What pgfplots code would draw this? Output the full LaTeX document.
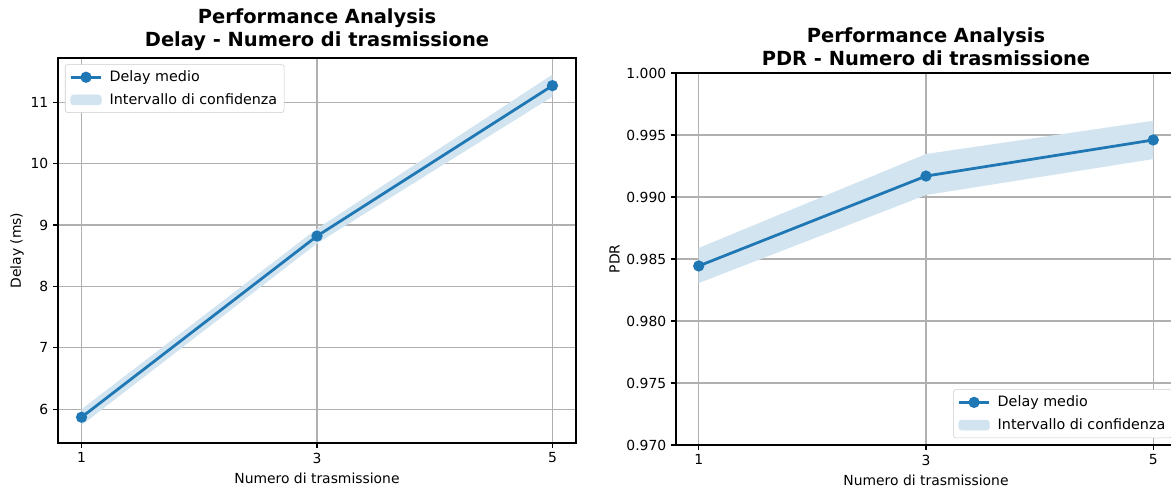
\documentclass[border=0pt]{standalone}
\usepackage{fontspec}
\setmainfont{DejaVu Sans}
\usepackage{pgfplots}
\pgfplotsset{compat=1.18}
\definecolor{C0}{HTML}{1F77B4}
\definecolor{band}{RGB}{210,228,240}
\definecolor{gridc}{HTML}{B0B0B0}
\pgfplotsset{
  myaxis/.style={
    scale only axis,
    anchor=south west,
    xmin=0.8, xmax=5.2,
    xtick={1,3,5},
    grid=major,
    major grid style={color=gridc, line width=0.8pt},
    axis line style={line width=0.8pt},
    tick style={black, line width=0.8pt},
    tick align=outside,
    major tick length=3.5pt,
    tick pos=left,
    /pgf/number format/assume math mode=true,
    tick label style={font=\fontsize{10}{12}\selectfont},
    label style={font=\fontsize{10}{12}\selectfont},
    title style={font=\bfseries\fontsize{14}{16.8}\selectfont, align=center, yshift=-4.5pt},
    xlabel={Numero di trasmissione},
    xlabel shift=0pt,
    ylabel shift=-2pt,
    legend cell align=left,
    legend style={font=\fontsize{10.3}{12}\selectfont, draw=black!20, rounded corners=2pt, fill=white,
      inner xsep=3pt, inner ysep=2.5pt, row sep=3pt,
      /tikz/every odd column/.append style={column sep=3pt}},
  },
  lineleg/.style={legend image code/.code={%
    \draw[mark repeat=2,mark phase=2,##1] plot coordinates {(0pt,0pt) (11pt,0pt) (22pt,0pt)};}},
  bandleg/.style={legend image code/.code={%
    \fill[band] (0pt,-3.6pt) rectangle (22pt,3.6pt);}},
}
\begin{document}
\begin{tikzpicture}[trim left=0pt, trim right=843.12pt]
\path (0,0) rectangle (843.12pt,-354.24pt);
\begin{axis}[myaxis,
  at={(41.76pt,-318.96pt)},
  width=372.96pt, height=277.2pt,
  ymin=5.45, ymax=11.72,
  ytick={6,7,8,9,10,11},
  ylabel={Delay (ms)},
  title={Performance Analysis\\Delay - Numero di trasmissione},
  legend style={at={(0,1)}, anchor=north west, xshift=5pt, yshift=-4.5pt},
]
\addplot[draw=none, fill=band, forget plot] coordinates {(1,5.74) (3,8.70) (5,11.09) (5,11.45) (3,8.94) (1,6.00)} -- cycle;
\addplot[C0, line width=2pt, mark=*, mark size=3pt, mark options={solid}, lineleg] coordinates {(1,5.87) (3,8.82) (5,11.27)};
\addlegendentry{Delay medio}
\addlegendimage{bandleg}
\addlegendentry{Intervallo di confidenza}
\end{axis}
\begin{axis}[myaxis,
  at={(486.72pt,-320.4pt)},
  width=360pt, height=267.84pt,
  ymin=0.97, ymax=1.0,
  ytick={0.97,0.975,0.98,0.985,0.99,0.995,1.0},
  yticklabel style={/pgf/number format/.cd, fixed, fixed zerofill, precision=3},
  scaled y ticks=false,
  ylabel={PDR},
  title={Performance Analysis\\PDR - Numero di trasmissione},
  legend style={at={(1,0)}, anchor=south east, xshift=-2.5pt, yshift=5pt},
]
\addplot[draw=none, fill=band, forget plot] coordinates {(1,0.98306) (3,0.99016) (5,0.99306) (5,0.99615) (3,0.99347) (1,0.98589)} -- cycle;
\addplot[C0, line width=2pt, mark=*, mark size=3pt, mark options={solid}, lineleg] coordinates {(1,0.98444) (3,0.99169) (5,0.99460)};
\addlegendentry{Delay medio}
\addlegendimage{bandleg}
\addlegendentry{Intervallo di confidenza}
\end{axis}
\end{tikzpicture}
\end{document}
